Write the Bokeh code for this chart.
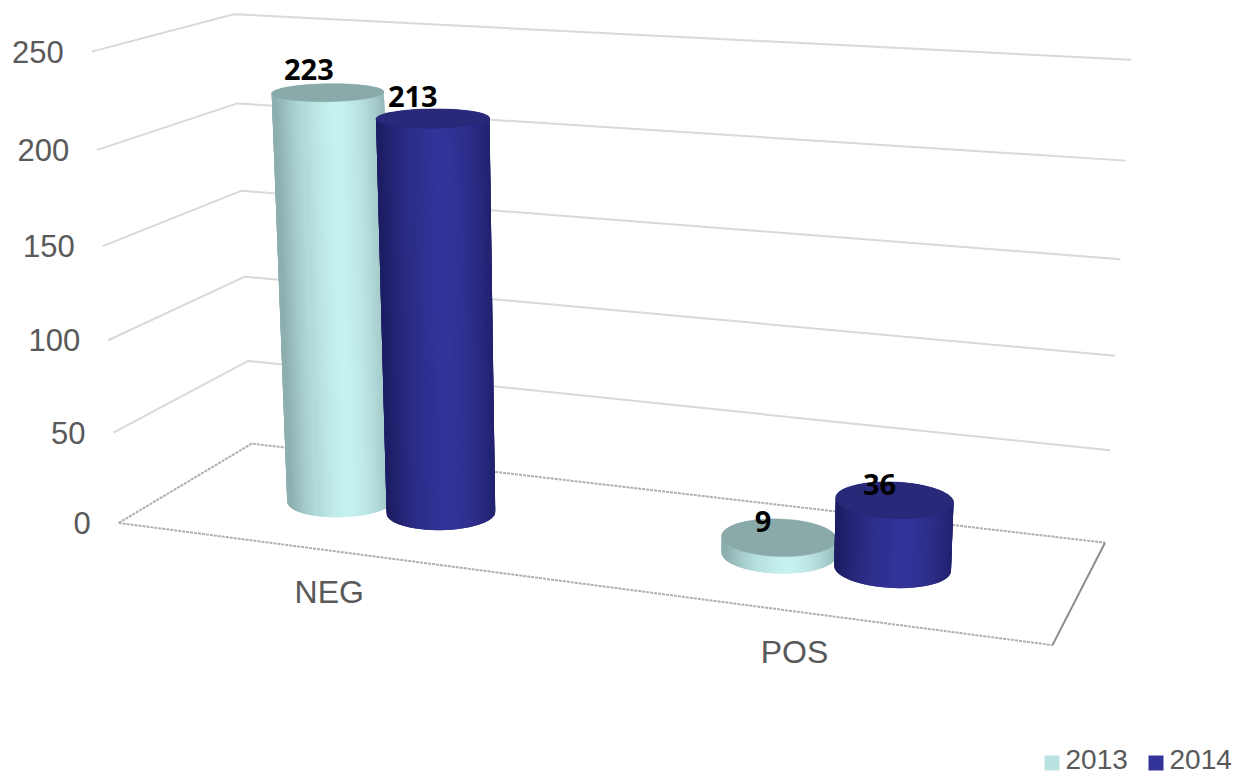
import numpy as np
from bokeh.plotting import figure
from bokeh.models import Range1d
from bokeh.core.properties import value
from bokeh.embed import file_html
from bokeh.resources import INLINE

# ---- data ----
categories = ["NEG", "POS"]
series_names = ["2013", "2014"]
series_2013 = [223, 9]
series_2014 = [213, 36]
y_ticks = [0, 50, 100, 150, 200, 250]
y_max = 250

# ---- view calibration: box edges seen on the picture, (u, value, w) -> pixel ----
front_left = [(120, 522), (112, 432), (106, 340), (102, 245), (98, 150), (91, 51)]
back_left = [(251, 443), (247, 361), (245, 277), (241, 190), (237, 102), (233, 14)]
back_right = [(1104, 542), (1110, 450), (1115, 355), (1120, 258), (1125, 160), (1131, 60)]
front_right_floor = (1052, 645)


def fit_projection():
    rows, rhs = [], []
    def add(u, v, w, px):
        X = [u, v / y_max, w, 1.0]
        rows.append(X + [0, 0, 0, 0] + [-px[0] * c for c in X[:3]])
        rhs.append(px[0])
        rows.append([0, 0, 0, 0] + X + [-px[1] * c for c in X[:3]])
        rhs.append(px[1])
    for t, a, b, c in zip(y_ticks, front_left, back_left, back_right):
        add(0, t, 0, a)
        add(0, t, 1, b)
        add(1, t, 1, c)
    add(1, 0, 0, front_right_floor)
    s = np.linalg.lstsq(np.array(rows, float), np.array(rhs, float), rcond=None)[0]
    return np.append(s, 1.0).reshape(3, 4)


P = fit_projection()


def project(u, v, w):
    u, v, w = np.broadcast_arrays(np.asarray(u, float), np.asarray(v, float), np.asarray(w, float))
    X = np.stack([u, v / y_max, w, np.ones_like(u)])
    q = P @ X
    return q[0] / q[2], q[1] / q[2]


# ---- layout ----
W, H = 1233, 774
group_shift = 0.0
bar_offset = 0.06
radius_u = 0.059
radius_w = 0.19
depth = 0.5
AXIS = "#595959"
FONT = value("Liberation Sans")
LABEL = value("Open Sans")
palette = {
    "2013": dict(edge="#8DAFAF", mid="#C6F1F1", top="#8AA9A9", key="#B9E2E3"),
    "2014": dict(edge="#1E1E66", mid="#333399", top="#29297A", key="#333399"),
}
label_offset = {("NEG", "2013"): (-19, -23), ("NEG", "2014"): (-20, -22),
                ("POS", "2013"): (-16, -16), ("POS", "2014"): (-15, -15)}

p = figure(width=W, height=H, output_backend="svg", toolbar_location=None,
           x_range=Range1d(0, W), y_range=Range1d(H, 0), min_border=0,
           outline_line_color=None, background_fill_color="white")
p.axis.visible = False
p.grid.visible = False

# walls
for t in y_ticks[1:]:
    xs, ys = project([0, 0, 1], t, [0, 1, 1])
    p.line(xs, ys, line_color="#D9D9D9", line_width=2)

# floor
xs, ys = project([0, 0, 1], 0, [0, 1, 1])
p.line(xs, ys, line_color="#B0B0B0", line_width=2, line_dash="3 1")
xs, ys = project([0, 1], 0, [0, 0])
p.line(xs, ys, line_color="#B0B0B0", line_width=2, line_dash="3 1")
xs, ys = project([1, 1], 0, [0, 1])
p.line(xs, ys, line_color="#8C8C8C", line_width=2)


def mix(a, b, f):
    ca = [int(a[i:i + 2], 16) for i in (1, 3, 5)]
    cb = [int(b[i:i + 2], 16) for i in (1, 3, 5)]
    return "#%02x%02x%02x" % tuple(int(round(x + (y - x) * f)) for x, y in zip(ca, cb))


def cylinder(u0, val, style):
    t = np.linspace(0, 2 * np.pi, 97)
    cu = u0 + radius_u * np.cos(t)
    cw = depth + radius_w * np.sin(t)
    bx, by = project(cu, 0, cw)
    tx, ty = project(cu, val, cw)
    xc = (bx.min() + bx.max()) / 2
    rx = (bx.max() - bx.min()) / 2
    n_seg = len(t) - 1
    order = np.argsort(-(cw[:-1] + cw[1:]))
    qx, qy, col = [], [], []
    for i in order:
        j = (i + 2) % n_seg
        n = ((bx[i] + bx[i + 1]) / 2 - xc) / rx
        f = 1 - min(abs(n - 0.08), 1) ** 1.7
        qx.append([bx[i], bx[j], tx[j], tx[i]])
        qy.append([by[i], by[j], ty[j], ty[i]])
        col.append(mix(style["edge"], style["mid"], f))
    p.patches(qx, qy, fill_color=col, line_color=None)
    p.patch(tx, ty, fill_color=style["top"], line_color=style["top"], line_width=0.5)


all_series = [series_2013, series_2014]
for ci, cat in enumerate(categories):
    for si, name in enumerate(series_names):
        val = all_series[si][ci]
        u0 = (ci + 0.5) / len(categories) + group_shift + (si - 0.5) * 2 * bar_offset
        cylinder(u0, val, palette[name])
for ci, cat in enumerate(categories):
    for si, name in enumerate(series_names):
        val = all_series[si][ci]
        u0 = (ci + 0.5) / len(categories) + group_shift + (si - 0.5) * 2 * bar_offset
        x, y = project(u0, val, depth)
        dx, dy = label_offset[(cat, name)]
        p.text([float(x) + dx], [float(y) + dy], text=[str(val)], text_font=LABEL,
               text_font_style="bold", text_font_size="29px", text_color="black",
               text_align="center", text_baseline="middle")

# value axis labels
for t in y_ticks:
    x, y = project(0, t, 0)
    p.text([float(x) - 28], [float(y)], text=[str(t)], text_font=FONT, text_font_size="31px",
           text_color=AXIS, text_align="right", text_baseline="middle")

# category labels
for ci, cat in enumerate(categories):
    x, y = project((ci + 0.5) / len(categories), 0, 0)
    p.text([float(x)], [float(y) + 41], text=[cat], text_font=FONT, text_font_size="32px",
           text_color=AXIS, text_align="center", text_baseline="middle")

# legend
for name, left, tx in zip(series_names, [1044, 1148], [1065, 1169]):
    p.quad(left=[left], right=[left + 15], top=[755], bottom=[770],
           fill_color=palette[name]["key"], line_color=None)
    p.text([tx], [759], text=[name], text_font=FONT, text_font_size="28px", text_color=AXIS,
           text_align="left", text_baseline="middle")

open("out.html", "w").write(file_html(p, INLINE))
